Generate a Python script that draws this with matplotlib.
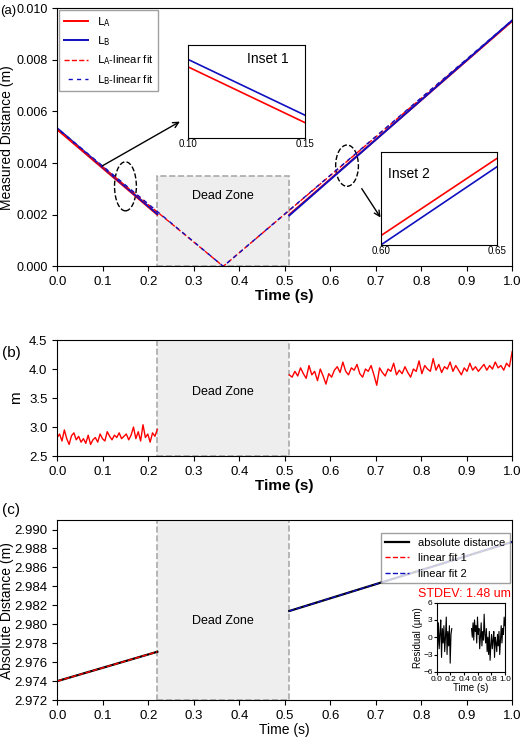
import numpy as np
import matplotlib.pyplot as plt
from matplotlib.patches import Rectangle, Ellipse

# --- data ---
t_a1 = [0.0, 0.22]
la_1 = [0.00530, 0.00200]
lb_1 = [0.00535, 0.00203]
t_fit = [0.0, 0.365, 1.0]
la_fit = [0.00530, 0.0, 0.00950]
lb_fit = [0.00535, 0.0, 0.00953]
t_a2 = [0.51, 1.0]
la_2 = [0.00200, 0.00950]
lb_2 = [0.00197, 0.00953]

b_left = [2.82, 2.88, 2.76, 2.95, 2.80, 2.70, 2.85, 2.90, 2.78, 2.84, 2.74, 2.80, 2.72, 2.86,
          2.70, 2.78, 2.82, 2.74, 2.88, 2.80, 2.76, 2.92, 2.84, 2.78, 2.86, 2.82, 2.90, 2.80,
          2.84, 2.88, 2.78, 2.86, 3.00, 2.80, 2.92, 2.76, 3.04, 2.82, 2.88, 2.74, 2.90, 2.84, 2.96]
b_right = [3.90, 3.86, 3.96, 3.88, 4.02, 3.92, 3.84, 4.06, 3.90, 3.96, 3.80, 4.00, 3.88, 3.74,
           3.92, 3.86, 3.98, 4.04, 3.94, 4.12, 3.96, 3.90, 4.02, 3.98, 4.08, 3.92, 3.86, 4.00,
           3.96, 4.06, 3.90, 3.72, 4.02, 3.94, 3.88, 4.00, 3.96, 4.10, 3.90, 3.98, 3.92, 4.04,
           3.94, 3.86, 4.00, 3.96, 4.14, 3.92, 4.06, 4.00, 3.96, 4.18, 3.98, 4.08, 3.94, 4.04,
           4.00, 4.12, 3.96, 4.06, 3.98, 3.90, 4.02, 3.96, 4.10, 3.98, 4.04, 3.96, 4.02, 4.08,
           3.98, 4.06, 4.00, 4.12, 4.02, 4.06, 3.98, 4.10, 4.04, 4.30]
c_t1 = [0.0, 0.22]
c_1 = [2.9740, 2.9771]
c_t2 = [0.51, 1.0]
c_2 = [2.9814, 2.9887]

r_left = [1.0, -1.5, 2.5, -2.0, 0.5, 3.0, -3.5, 1.5, -1.0, 2.0, -2.5, 0.0, 3.5, -3.0, 1.0,
          -1.5, 2.0, -4.5, 0.5, 1.5]
r_right = [1.5, 0.0, 2.5, -0.5, 3.0, 1.0, 2.0, -1.0, 3.5, 0.5, 1.5, -2.0, 0.0, 2.5, -1.5,
           1.0, -0.5, 4.0, 0.5, -1.0, 1.5, -2.5, 0.0, -3.0, 1.0, -4.0, -1.5, 0.5, -2.0, -0.5,
           1.0, -3.5, 0.0, -1.0, -2.5, 0.5, -1.5, 1.0, -3.0, -0.5, 2.0, -1.0, 1.5, 0.5, 3.5, 2.0]

plt.rcParams['font.family'] = 'Liberation Sans'
fig = plt.figure(figsize=(5.2, 7.44), dpi=100)
BLUE = '#1010c0'

def dead(ax, y0, y1):
    ax.add_patch(Rectangle((0.22, y0), 0.29, y1 - y0, facecolor='#eeeeee', edgecolor='#aaaaaa',
                           ls='--', lw=1.2, zorder=0))

def common(ax):
    ax.set_xlim(0, 1)
    ax.set_xticks(np.arange(0, 1.01, 0.1))
    ax.tick_params(labelsize=9.5, direction='out')

# (a)
ax = fig.add_axes([0.110, 0.642, 0.875, 0.347])
dead(ax, 0, 0.0035)
ax.text(0.365, 0.0026, 'Dead Zone', ha='center', fontsize=9)
ax.plot(t_a1, la_1, color='red', lw=1.4, label=r'$\mathrm{L_A}$')
ax.plot(t_a1, lb_1, color=BLUE, lw=1.4, label=r'$\mathrm{L_B}$')
ax.plot(t_fit, la_fit, color='red', ls='--', lw=1, label=r'$\mathrm{L_A}$-linear fit')
ax.plot(t_fit, lb_fit, color=BLUE, ls=(3, (3, 3)), lw=1, label=r'$\mathrm{L_B}$-linear fit')
ax.plot(t_a2, la_2, color='red', lw=1.4)
ax.plot(t_a2, lb_2, color=BLUE, lw=1.4)
common(ax)
ax.tick_params(axis='y', labelsize=9)
ax.set_ylim(0, 0.010)
ax.set_yticks(np.arange(0, 0.0101, 0.002))
ax.yaxis.set_major_formatter(plt.FormatStrFormatter('%.3f'))
ax.set_xlabel('Time (s)', fontsize=11, fontweight='bold', labelpad=1)
ax.set_ylabel('Measured Distance (m)', fontsize=10)
ax.yaxis.set_label_coords(-0.095, 0.5)
ax.legend(loc='upper left', fontsize=8, frameon=True, fancybox=False, edgecolor='#888888',
          borderaxespad=0.2, handlelength=2.2)
ax.add_patch(Ellipse((0.15, 0.0031), 0.048, 0.0019, fill=False, ls='--', lw=1))
ax.add_patch(Ellipse((0.637, 0.0039), 0.05, 0.0016, fill=False, ls='--', lw=1))
ax.annotate('', xy=(0.275, 0.00566), xytext=(0.094, 0.00384),
            arrowprops=dict(arrowstyle='->', lw=1))
ax.annotate('', xy=(0.714, 0.0018), xytext=(0.666, 0.0031),
            arrowprops=dict(arrowstyle='->', lw=1))
fig.text(0.0, 0.985, '(a)', fontsize=9.5, va='center')

ins = fig.add_axes([0.362, 0.815, 0.225, 0.125])
ins.plot([0.10, 0.15], [0.76, 0.16], color='red', lw=1.2)
ins.plot([0.10, 0.15], [0.84, 0.24], color=BLUE, lw=1.2)
ins.set_xlim(0.10, 0.15); ins.set_ylim(0, 1)
ins.set_xticks([0.10, 0.15]); ins.set_xticklabels(['0.10', '0.15'], fontsize=7)
ins.set_yticks([]); ins.tick_params(length=0, pad=1)
ins.text(0.5, 0.8, 'Inset 1', transform=ins.transAxes, fontsize=10)

ins2 = fig.add_axes([0.733, 0.671, 0.223, 0.125])
ins2.plot([0.60, 0.65], [0.10, 0.93], color='red', lw=1.2)
ins2.plot([0.60, 0.65], [0.00, 0.84], color=BLUE, lw=1.2)
ins2.set_xlim(0.60, 0.65); ins2.set_ylim(0, 1)
ins2.set_xticks([0.60, 0.65]); ins2.set_xticklabels(['0.60', '0.65'], fontsize=7)
ins2.set_yticks([]); ins2.tick_params(length=0, pad=1)
ins2.text(0.06, 0.72, 'Inset 2', transform=ins2.transAxes, fontsize=10)

# (b)
ax = fig.add_axes([0.110, 0.387, 0.875, 0.156])
dead(ax, 2.5, 4.5)
ax.text(0.365, 3.55, 'Dead Zone', ha='center', fontsize=9)
ax.plot(np.linspace(0, 0.22, len(b_left)), b_left, color='red', lw=1)
ax.plot(np.linspace(0.51, 1.0, len(b_right)), b_right, color='red', lw=1)
common(ax)
ax.set_ylim(2.5, 4.5)
ax.set_yticks(np.arange(2.5, 4.51, 0.5))
ax.set_xlabel('Time (s)', fontsize=11, fontweight='bold', labelpad=1)
ax.set_ylabel('m', fontsize=11)
ax.yaxis.set_label_coords(-0.075, 0.5)
fig.text(0.003, 0.525, '(b)', fontsize=11, va='center')

# (c)
ax = fig.add_axes([0.110, 0.059, 0.875, 0.242])
dead(ax, 2.972, 2.991)
ax.text(0.365, 2.9800, 'Dead Zone', ha='center', fontsize=9)
ax.plot(c_t1, c_1, color='black', lw=1.6, label='absolute distance')
ax.plot(c_t2, c_2, color='black', lw=1.6)
ax.plot(c_t1, c_1, color='red', ls='--', lw=1, label='linear fit 1')
ax.plot(c_t2, c_2, color=BLUE, ls='--', lw=1, label='linear fit 2')
common(ax)
ax.set_ylim(2.972, 2.991)
ax.set_yticks(np.arange(2.972, 2.9901, 0.002))
ax.yaxis.set_major_formatter(plt.FormatStrFormatter('%.3f'))
ax.set_xlabel('Time (s)', fontsize=10, labelpad=1)
ax.set_ylabel('Absolute Distance (m)', fontsize=10)
ax.yaxis.set_label_coords(-0.095, 0.5)
ax.legend(loc='upper right', fontsize=8, frameon=True, fancybox=False, edgecolor='#888888',
          borderaxespad=0.2, handlelength=2.2, bbox_to_anchor=(1.0, 0.94))
fig.text(0.003, 0.315, '(c)', fontsize=11, va='center')

ins3 = fig.add_axes([0.840, 0.097, 0.131, 0.093])
ins3.plot(np.linspace(0, 0.22, len(r_left)), r_left, color='black', lw=0.8)
ins3.plot(np.linspace(0.51, 1.0, len(r_right)), r_right, color='black', lw=0.8)
ins3.set_xlim(0, 1); ins3.set_ylim(-6, 6)
ins3.set_xticks(np.arange(0, 1.01, 0.2)); ins3.set_yticks([-6, -3, 0, 3, 6])
ins3.tick_params(labelsize=6, pad=1, length=2)
ins3.set_xlabel('Time (s)', fontsize=7, labelpad=0)
ins3.set_ylabel('Residual (μm)', fontsize=7, labelpad=0)
ins3.text(0.4, 1.04, 'STDEV: 1.48 um', color='red', fontsize=9, ha='center', va='bottom',
          transform=ins3.transAxes)

fig.savefig('out.png', dpi=100)
